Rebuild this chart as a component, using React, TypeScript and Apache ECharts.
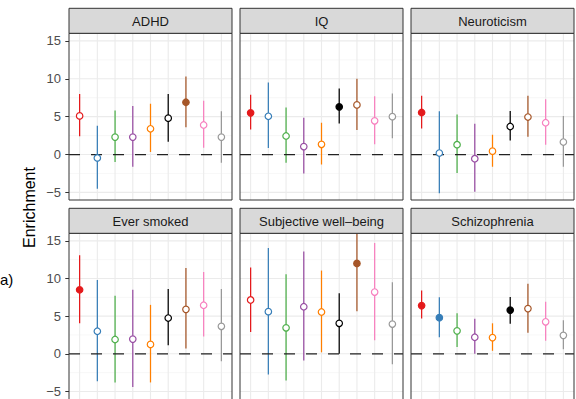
import React, { useEffect, useRef } from "react";
import * as echarts from "echarts";

// ---------- data ----------
const panelTitles = ["ADHD", "IQ", "Neuroticism", "Ever smoked", "Subjective well\u2013being", "Schizophrenia"];
const annotationNames = [
  "Annotation 1", "Annotation 2", "Annotation 3", "Annotation 4", "Annotation 5",
  "Annotation 6", "Annotation 7", "Annotation 8", "Annotation 9",
];
const annotationColors = ["#E41A1C", "#377EB8", "#4DAF4A", "#984EA3", "#FF7F00", "#000000", "#A65628", "#F781BF", "#999999"];

const estimates = [
  [5.1, -0.45, 2.3, 2.3, 3.4, 4.8, 6.9, 3.9, 2.3],
  [5.5, 5.05, 2.45, 1.05, 1.35, 6.3, 6.55, 4.45, 5.0],
  [5.55, 0.2, 1.3, -0.55, 0.45, 3.7, 4.95, 4.2, 1.65],
  [8.5, 3.0, 1.9, 1.95, 1.25, 4.75, 5.9, 6.45, 3.65],
  [7.15, 5.6, 3.45, 6.25, 5.55, 4.05, 12.0, 8.2, 3.95],
  [6.4, 4.8, 3.05, 2.2, 2.15, 5.8, 6.0, 4.25, 2.45],
];
const lowerCI = [
  [2.4, -4.5, -1.0, -1.6, 0.35, 1.7, 3.6, 0.9, -1.1],
  [3.3, 0.85, -1.1, -2.5, -1.3, 4.1, 3.25, 1.35, 2.15],
  [3.45, -5.1, -2.45, -4.9, -1.6, 1.85, 2.35, 1.3, -1.6],
  [4.05, -3.65, -3.8, -4.4, -3.8, 1.15, 0.7, 2.3, -1.0],
  [2.9, -2.75, -3.55, -0.9, 0.2, 0.0, 5.65, 1.8, -1.4],
  [4.7, 2.2, 0.9, 0.0, 0.4, 4.0, 2.8, 1.75, 0.6],
];
const upperCI = [
  [8.0, 3.8, 5.8, 6.4, 6.7, 8.0, 10.3, 7.1, 5.7],
  [7.9, 9.5, 6.2, 4.85, 4.2, 8.7, 10.0, 7.7, 8.05],
  [7.75, 5.7, 5.3, 4.05, 2.6, 5.75, 7.75, 7.3, 5.1],
  [13.1, 9.8, 7.7, 8.5, 6.5, 8.6, 11.4, 10.85, 8.6],
  [11.45, 14.05, 10.55, 13.6, 11.05, 8.05, 16.5, 14.7, 9.5],
  [8.4, 7.5, 5.4, 4.65, 4.05, 7.55, 9.3, 6.9, 4.45],
];
const significant = [
  [0, 0, 0, 0, 0, 0, 1, 0, 0],
  [1, 0, 0, 0, 0, 1, 0, 0, 0],
  [1, 0, 0, 0, 0, 0, 0, 0, 0],
  [1, 0, 0, 0, 0, 0, 0, 0, 0],
  [0, 0, 0, 0, 0, 0, 1, 0, 0],
  [1, 1, 0, 0, 0, 1, 0, 0, 0],
];
const yTicks = [-5, 0, 5, 10, 15];
const yMinorGrid = [-2.5, 2.5, 7.5, 12.5];
const referenceLine = [0];
const yTitle = "Enrichment";
const panelTag = "a)";

// ---------- layout ----------
const FONT = "'Liberation Sans', Arial, Helvetica, sans-serif";
const COLS = [69, 240, 411];
const ROWS = [33.3, 233.3];
const PW = 163;
const PH = 166.7;
const STRIP = 25;
const Y_MIN = -6;
const Y_MAX = 16;
const X_MIN = 0.4;
const X_MAX = 9.6;

export default function App() {
  const ref = useRef<HTMLDivElement>(null);

  useEffect(() => {
    if (!ref.current) return;
    const chart = echarts.init(ref.current, undefined, { renderer: "svg" });

    const grids: any[] = [];
    const xAxes: any[] = [];
    const yAxes: any[] = [];
    const series: any[] = [];
    const graphics: any[] = [];

    panelTitles.forEach((title, i) => {
      const col = i % 3;
      const row = Math.floor(i / 3);
      const left = COLS[col];
      const top = ROWS[row];
      grids.push({ left, top, width: PW, height: PH, containLabel: false });
      xAxes.push({ type: "value", gridIndex: i, min: X_MIN, max: X_MAX, show: false });
      yAxes.push({
        type: "value",
        gridIndex: i,
        min: Y_MIN,
        max: Y_MAX,
        axisLine: { show: false },
        splitLine: { show: false },
        axisTick: {
          show: col === 0,
          customValues: yTicks,
          length: 3.7,
          lineStyle: { color: "#333333", width: 1 },
        },
        axisLabel: {
          show: col === 0,
          customValues: yTicks,
          formatter: (v: number) => (v < 0 ? "\u2212" + Math.abs(v) : String(v)),
          fontSize: 13,
          color: "#4D4D4D",
          fontFamily: FONT,
          margin: 8,
        },
      });

      // horizontal grid lines
      series.push({
        type: "custom",
        xAxisIndex: i,
        yAxisIndex: i,
        silent: true,
        z: 1,
        encode: { x: 0, y: 1 },
        data: [
          ...yTicks.map((v) => [X_MIN, v, 1]),
          ...yMinorGrid.map((v) => [X_MIN, v, 0]),
        ],
        renderItem: (params: any, api: any) => {
          const cs = params.coordSys;
          const y = api.coord([X_MIN, api.value(1)])[1];
          const major = api.value(2) === 1;
          return {
            type: "line",
            shape: { x1: cs.x, y1: y, x2: cs.x + cs.width, y2: y },
            style: { stroke: major ? "#EBEBEB" : "#F2F2F2", lineWidth: major ? 1.1 : 0.6 },
          };
        },
      });
      // vertical grid lines
      series.push({
        type: "custom",
        xAxisIndex: i,
        yAxisIndex: i,
        silent: true,
        z: 1,
        encode: { x: 0, y: 1 },
        data: annotationNames.map((_, j) => [j + 1, 0]),
        renderItem: (params: any, api: any) => {
          const cs = params.coordSys;
          const x = api.coord([api.value(0), 0])[0];
          return {
            type: "line",
            shape: { x1: x, y1: cs.y, x2: x, y2: cs.y + cs.height },
            style: { stroke: "#EBEBEB", lineWidth: 1.1 },
          };
        },
      });
      // error bars
      series.push({
        type: "custom",
        xAxisIndex: i,
        yAxisIndex: i,
        silent: true,
        clip: true,
        z: 3,
        encode: { x: 0, y: [1, 2] },
        data: estimates[i].map((_, j) => [j + 1, lowerCI[i][j], upperCI[i][j], j]),
        renderItem: (params: any, api: any) => {
          const x = api.value(0);
          const p1 = api.coord([x, api.value(1)]);
          const p2 = api.coord([x, api.value(2)]);
          return {
            type: "line",
            shape: { x1: p1[0], y1: p1[1], x2: p2[0], y2: p2[1] },
            style: { stroke: annotationColors[api.value(3)], lineWidth: 1.25 },
          };
        },
      });
      // dashed reference line
      series.push({
        type: "custom",
        xAxisIndex: i,
        yAxisIndex: i,
        silent: true,
        z: 4,
        encode: { x: 0, y: 1 },
        data: referenceLine.map((v) => [X_MIN, v]),
        renderItem: (params: any, api: any) => {
          const cs = params.coordSys;
          const y = api.coord([X_MIN, api.value(1)])[1];
          return {
            type: "line",
            shape: { x1: cs.x, y1: y, x2: cs.x + cs.width, y2: y },
            style: { stroke: "#222222", lineWidth: 1.3, lineDash: [11, 11] },
          };
        },
      });
      // points
      series.push({
        type: "scatter",
        xAxisIndex: i,
        yAxisIndex: i,
        symbol: "circle",
        symbolSize: 6.5,
        z: 5,
        silent: true,
        data: estimates[i].map((v, j) => ({
          value: [j + 1, v],
          itemStyle: {
            color: significant[i][j] ? annotationColors[j] : "#FFFFFF",
            borderColor: annotationColors[j],
            borderWidth: 1.2,
            opacity: 1,
          },
        })),
      });

      // panel border
      graphics.push({
        type: "rect",
        silent: true,
        z: 100,
        shape: { x: left, y: top, width: PW, height: PH },
        style: { fill: "none", stroke: "#333333", lineWidth: 1 },
      });
      // strip
      graphics.push({
        type: "rect",
        silent: true,
        z: 100,
        shape: { x: left, y: top - STRIP, width: PW, height: STRIP },
        style: { fill: "#D9D9D9", stroke: "#333333", lineWidth: 1 },
      });
      graphics.push({
        type: "text",
        silent: true,
        z: 101,
        x: left + PW / 2,
        y: top - STRIP / 2 + 0.5,
        style: {
          text: title,
          fill: "#1A1A1A",
          fontSize: 13,
          fontFamily: FONT,
          align: "center",
          verticalAlign: "middle",
          textAlign: "center",
          textVerticalAlign: "middle",
        },
      });
    });

    graphics.push({
      type: "text",
      silent: true,
      x: 29,
      y: 207.5,
      rotation: Math.PI / 2,
      style: {
        text: yTitle,
        fill: "#000000",
        fontSize: 16,
        fontFamily: FONT,
        align: "center",
        verticalAlign: "middle",
        textAlign: "center",
        textVerticalAlign: "middle",
      },
    });
    graphics.push({
      type: "text",
      silent: true,
      x: 0,
      y: 279,
      style: {
        text: panelTag,
        fill: "#000000",
        fontSize: 15,
        fontFamily: FONT,
        align: "left",
        verticalAlign: "middle",
        textAlign: "left",
        textVerticalAlign: "middle",
      },
    });

    chart.setOption({
      animation: false,
      backgroundColor: "#FFFFFF",
      grid: grids,
      xAxis: xAxes,
      yAxis: yAxes,
      series,
      graphic: { elements: graphics },
    });

    return () => chart.dispose();
  }, []);

  return (
    <div
      ref={ref}
      style={{ position: "fixed", left: 0, top: 0, width: 576, height: 399, background: "#fff" }}
    />
  );
}
